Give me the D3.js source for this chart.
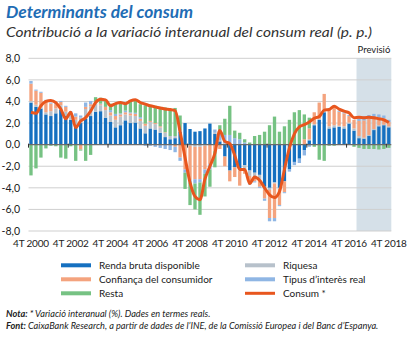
<!DOCTYPE html>
<html><head><meta charset="utf-8">
<script src="https://cdn.jsdelivr.net/npm/d3@7/dist/d3.min.js"></script>
<style>
body{margin:0;background:#fff;}
svg{display:block;font-family:Lato,"Open Sans",sans-serif;}
</style>
</head><body>
<svg id="c" width="409" height="338"></svg>
<script>
// ---------- DATA ----------
const quarters = [
 "4T 2000",
 "1T 2001","2T 2001","3T 2001","4T 2001",
 "1T 2002","2T 2002","3T 2002","4T 2002",
 "1T 2003","2T 2003","3T 2003","4T 2003",
 "1T 2004","2T 2004","3T 2004","4T 2004",
 "1T 2005","2T 2005","3T 2005","4T 2005",
 "1T 2006","2T 2006","3T 2006","4T 2006",
 "1T 2007","2T 2007","3T 2007","4T 2007",
 "1T 2008","2T 2008","3T 2008","4T 2008",
 "1T 2009","2T 2009","3T 2009","4T 2009",
 "1T 2010","2T 2010","3T 2010","4T 2010",
 "1T 2011","2T 2011","3T 2011","4T 2011",
 "1T 2012","2T 2012","3T 2012","4T 2012",
 "1T 2013","2T 2013","3T 2013","4T 2013",
 "1T 2014","2T 2014","3T 2014","4T 2014",
 "1T 2015","2T 2015","3T 2015","4T 2015",
 "1T 2016","2T 2016","3T 2016","4T 2016",
 "1T 2017","2T 2017","3T 2017","4T 2017",
 "1T 2018","2T 2018","3T 2018","4T 2018"
];
const renda = [3.9,3.5,3.35,2.8,2.65,2.9,3.25,2.65,2.3,1.7,2.0,2.4,2.65,3.05,3.1,2.5,2.1,1.6,1.8,2.25,2.0,2.05,1.5,1.05,1.5,1.4,1.1,0.7,0.5,0.6,1.2,2.0,1.45,1.2,1.25,1.5,1.95,1.0,0.3,-1.1,-2.4,-2.1,-2.2,-1.9,-2.4,-2.6,-2.8,-3.9,-4.0,-3.5,-4.0,-3.4,-2.3,-1.6,-1.3,-0.5,0.4,1.8,2.3,3.0,1.5,1.6,1.65,1.5,1.95,1.3,0.6,0.55,0.8,1.35,1.7,1.8,1.6];
const riquesa = [0.15,0.2,0.15,0.2,0.45,0.45,0.4,0.4,0.5,0.6,0.5,0.9,0.9,0.75,0.55,0.7,0.6,0.7,0.8,0.55,0.7,0.6,0.7,0.7,0.6,0.5,0.5,0.4,0.3,0.2,0.1,0.0,-0.1,-0.2,-0.2,-0.1,0.0,0.1,0.1,0.1,0.0,0.0,-0.2,-0.5,-0.5,-0.4,-0.5,-0.3,-0.2,-0.1,-0.1,0.0,0.0,0.0,0.0,0.0,0.1,0.1,0.1,0.1,0.2,0.2,0.1,0.2,0.1,0.2,0.2,0.1,0.1,0.1,0.1,0.05,0.1];
const confianca = [1.6,1.3,1.3,1.0,0.7,0.4,0.3,0.45,0.2,0.3,-0.45,0.2,0.2,0.1,0.1,0.3,0.3,0.35,0.2,0.2,0.2,0.2,0.2,0.2,0.1,0.1,0.1,0.05,0.0,-0.2,-1.2,-2.3,-3.2,-3.0,-3.0,-2.2,-1.8,-0.6,-0.4,-0.9,-1.0,-0.9,-1.4,-0.3,-0.6,-0.4,-0.6,-0.8,-2.6,-3.2,-1.5,-1.0,0.0,0.0,0.0,0.5,1.0,1.1,1.5,1.6,1.6,1.7,1.3,1.2,0.6,0.8,1.4,1.6,1.5,1.1,0.7,0.6,0.4];
const tipus = [0.25,0.1,0.1,0.15,0.1,0.15,0.1,0.1,0.1,0.3,0.2,0.4,0.3,0.1,0.05,0.0,0.2,0.2,0.1,0.15,0.1,0.1,0.15,-0.1,-0.1,-0.2,-0.3,-0.4,-0.5,-0.5,-0.3,-0.3,-0.2,-0.4,-0.3,-0.4,-0.5,0.3,0.6,0.8,0.9,0.6,0.5,0.2,-0.2,-0.1,-0.1,-0.2,-0.3,-0.3,-0.1,-0.1,-0.2,-0.3,-0.4,-0.5,-0.2,0.0,0.0,0.0,0.1,0.1,0.1,0.1,0.1,0.0,0.4,0.4,0.35,0.3,0.3,0.25,0.2];
const resta = [-2.85,-2.2,-1.2,-0.35,-0.1,-0.15,-1.2,-1.3,-0.15,-1.5,-0.1,-1.5,-0.95,0.4,0.55,0.6,0.6,0.9,1.0,0.6,1.1,1.1,1.2,1.7,1.4,1.6,1.8,2.3,2.5,2.6,1.4,-1.5,-2.1,-2.4,-3.0,-2.1,-1.6,-1.5,0.8,1.5,2.7,0.7,0.6,0.3,0.2,0.8,0.9,1.2,1.8,2.6,1.2,1.7,2.3,3.0,3.2,2.3,1.0,-0.2,-1.4,-1.5,-0.1,-0.1,0.0,0.0,0.0,-0.2,-0.3,-0.4,-0.4,-0.4,-0.45,-0.4,-0.3];
const consum = [3.0,2.9,3.6,4.0,4.1,3.9,3.3,2.4,3.0,1.6,2.2,2.5,3.1,3.9,4.2,4.15,3.6,3.8,3.9,3.8,4.05,4.15,3.9,3.75,3.6,3.5,3.4,3.3,3.25,3.15,1.2,-1.2,-3.5,-4.8,-5.1,-3.2,-2.0,-0.8,1.3,0.3,0.1,-1.0,-2.3,-2.3,-3.6,-3.0,-3.3,-4.0,-4.65,-4.9,-4.35,-2.3,-0.3,1.0,1.65,1.85,2.1,2.45,2.6,3.2,3.25,3.55,3.3,3.1,2.95,2.5,2.55,2.5,2.55,2.5,2.4,2.3,2.05];
const xTickLabels = ["4T 2000","4T 2002","4T 2004","4T 2006","4T 2008","4T 2010","4T 2012","4T 2014","4T 2016","4T 2018"];
const yTicks = [8,6,4,2,0,-2,-4,-6,-8];
const forecastStart = "2T 2017";
const seriesKeys = ["renda","riquesa","confianca","tipus","resta"];
const seriesNames = {renda:"Renda bruta disponible",riquesa:"Riquesa",confianca:"Confiança del consumidor",tipus:"Tipus d’interès real",resta:"Resta",consum:"Consum *"};
const colors = {renda:"#1570c0",riquesa:"#b7c1cb",confianca:"#f4a37e",tipus:"#8fb6e4",resta:"#76c283",consum:"#e8561e"};

// ---------- CHART ----------
const svg = d3.select("#c");
const rows = quarters.map((q,i)=>({q, renda:renda[i], riquesa:riquesa[i], confianca:confianca[i], tipus:tipus[i], resta:resta[i], consum:consum[i]}));

const x = d3.scaleBand().domain(quarters).range([28.5,391.3]).paddingInner(0.33).paddingOuter(0.165);
const y = d3.scaleLinear().domain([-8,8]).range([231,58.3]);
const cx = q => x(q) + x.bandwidth()/2;
const left = q => cx(q) - x.step()/2;

// forecast shading
svg.append("rect")
  .attr("x", left(forecastStart)).attr("y", y(8))
  .attr("width", 391.3 - left(forecastStart)).attr("height", y(-8)-y(8))
  .attr("fill","#d5e0e8");
svg.append("text").attr("x",(left(forecastStart)+391.3)/2).attr("y",52.5)
  .attr("text-anchor","middle").attr("font-size",9.5).attr("fill","#222").text("Previsió");

// grid
svg.append("g").selectAll("line").data(yTicks.filter(d=>d!==0)).join("line")
  .attr("x1",28.5).attr("x2",391.3).attr("y1",d=>y(d)).attr("y2",d=>y(d))
  .attr("stroke","#cfcfcf").attr("stroke-width",1);

// y labels
const loc = d3.formatLocale({decimal:",",thousands:".",grouping:[3],currency:["","€"],minus:"-"});
const fmt = loc.format(".1f");
svg.append("g").selectAll("text").data(yTicks).join("text")
  .attr("x",20).attr("y",d=>y(d)).attr("dy","0.35em").attr("text-anchor","end")
  .attr("font-size",10.5).attr("fill","#222").text(d=>fmt(d));

// bars
const stack = d3.stack().keys(seriesKeys).offset(d3.stackOffsetDiverging)(rows);
svg.append("g").selectAll("g").data(stack).join("g")
  .attr("fill",d=>colors[d.key])
  .selectAll("rect").data(d=>d).join("rect")
  .attr("x",d=>x(d.data.q)).attr("width",x.bandwidth())
  .attr("y",d=>y(Math.max(d[0],d[1]))).attr("height",d=>Math.abs(y(d[0])-y(d[1])));

// zero line and ticks
svg.append("line").attr("x1",28.5).attr("x2",391.3).attr("y1",y(0)).attr("y2",y(0))
  .attr("stroke","#6b6b6b").attr("stroke-width",1.2);
svg.append("g").selectAll("line").data(xTickLabels).join("line")
  .attr("x1",d=>left(d)).attr("x2",d=>left(d)).attr("y1",y(0)-1).attr("y2",y(0)+3)
  .attr("stroke","#333").attr("stroke-width",1);

// x labels
svg.append("g").selectAll("text").data(xTickLabels).join("text")
  .attr("x",d=>cx(d)).attr("y",246.5).attr("text-anchor","middle")
  .attr("font-size",10).attr("letter-spacing",-0.2).attr("fill","#222").text(d=>d);

// line
const line = d3.line().x(d=>cx(d.q)).y(d=>y(d.consum)).curve(d3.curveMonotoneX);
svg.append("path").datum(rows).attr("d",line).attr("fill","none")
  .attr("stroke",colors.consum).attr("stroke-width",3).attr("stroke-linejoin","round");

// title
svg.append("text").attr("x",6).attr("y",18).attr("font-size",17).attr("font-weight","bold")
  .attr("font-style","italic").attr("fill","#1f6db5")
  .attr("textLength",187).attr("lengthAdjust","spacingAndGlyphs").text("Determinants del consum");
svg.append("text").attr("x",6).attr("y",36.5).attr("font-size",13.5)
  .attr("font-style","italic").attr("fill","#333")
  .attr("textLength",366).attr("lengthAdjust","spacingAndGlyphs")
  .text("Contribució a la variació interanual del consum real (p. p.)");

// legend
const legendItems = [
  {k:"renda",col:0,row:0},{k:"confianca",col:0,row:1},{k:"resta",col:0,row:2},
  {k:"riquesa",col:1,row:0},{k:"tipus",col:1,row:1},{k:"consum",col:1,row:2}
];
const lg = svg.append("g").selectAll("g").data(legendItems).join("g")
  .attr("transform",d=>`translate(${d.col?245:61},${265.3+d.row*14})`);
lg.append("rect").attr("x",0).attr("y",d=>d.k==="consum"?-1.5:-2).attr("width",30)
  .attr("height",d=>d.k==="consum"?3:4).attr("fill",d=>colors[d.k]);
lg.append("text").attr("x",38).attr("dy","0.35em").attr("font-size",10).attr("fill","#1a1a1a")
  .text(d=>seriesNames[d.k]);

// notes
const n1 = svg.append("text").attr("x",6).attr("y",316.5).attr("font-size",9.2).attr("font-style","italic").attr("fill","#222");
n1.append("tspan").attr("font-weight","bold").text("Nota: ");
n1.append("tspan").text("* Variació interanual (%). Dades en termes reals.");
const n2 = svg.append("text").attr("x",6).attr("y",328.5).attr("font-size",9.2).attr("font-style","italic").attr("fill","#222");
n2.append("tspan").attr("font-weight","bold").text("Font: ");
n2.append("tspan").text("CaixaBank Research, a partir de dades de l’INE, de la Comissió Europea i del Banc d’Espanya.");
</script>
</body></html>
